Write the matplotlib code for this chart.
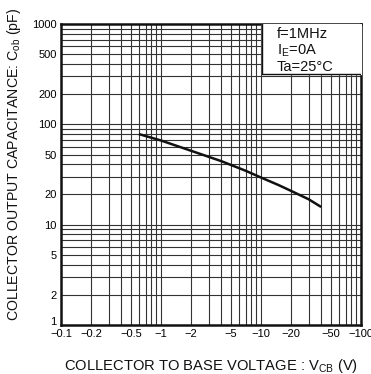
import matplotlib
matplotlib.use('Agg')
import matplotlib.pyplot as plt
import matplotlib.transforms as mtransforms
import numpy as np

# Cob vs Vcb, f=1MHz, Ie=0A, Ta=25C
vcb = [0.6, 1, 2, 4, 7, 10, 15, 20, 30, 40]
cob = [80, 69, 54.5, 43, 34.5, 29.5, 24.8, 21.7, 17.9, 15]

x_ticks = [0.1, 0.2, 0.5, 1, 2, 5, 10, 20, 50, 100]
x_labels = ['\u22120.1', '\u22120.2', '\u22120.5', '\u22121', '\u22122', '\u22125',
            '\u221210', '\u221220', '\u221250', '\u2212100']
y_ticks = [1, 2, 5, 10, 20, 50, 100, 200, 500, 1000]
y_labels = ['1', '2', '5', '10', '20', '50', '100', '200', '500', '1000']

narrow = ['Liberation Sans Narrow', 'Liberation Sans', 'DejaVu Sans']
plt.rcParams['font.family'] = ['Liberation Sans', 'DejaVu Sans']

fig = plt.figure(figsize=(3.71, 3.74), dpi=100)
ax = fig.add_axes([61 / 371, 1 - 325 / 374, 300 / 371, 301 / 374])
ax.set_xscale('log')
ax.set_yscale('log')
ax.set_xlim(0.1, 100)
ax.set_ylim(1, 1000)

# full log grid: every 1..9 step in each decade
for d in [0.1, 1, 10]:
    for k in range(2, 10):
        ax.axvline(d * k, color='#333333', lw=0.8, zorder=1)
for d in [1, 10, 100]:
    for k in range(2, 10):
        ax.axhline(d * k, color='#333333', lw=0.8, zorder=1)
for v in [1, 10]:
    ax.axvline(v, color='#333333', lw=0.8, zorder=1)
for v in [10, 100]:
    ax.axhline(v, color='#333333', lw=0.8, zorder=1)

ax.plot(vcb, cob, color='#111111', lw=1.8, zorder=3, solid_capstyle='butt')

ax.set_xticks(x_ticks)
ax.set_xticklabels(x_labels, family=narrow, fontsize=8)
ax.set_yticks(y_ticks)
ax.set_yticklabels(y_labels, family=narrow, fontsize=8)
ax.minorticks_off()
ax.tick_params(length=0, pad=3)

# lift the "1" a little so it clears the "-0.1"
lbl = ax.get_yticklabels()[0]
lbl.set_transform(lbl.get_transform() +
                  mtransforms.ScaledTranslation(0, 3 / 72, fig.dpi_scale_trans))

for s in ax.spines.values():
    s.set_linewidth(1.8)
    s.set_color('#111111')

# condition box in the upper right
ax.fill_between([10 ** 1.01, 100], 10 ** 2.5, 1000, color='white', zorder=4)
ax.plot([10 ** 1.01, 10 ** 1.01, 100], [1000, 10 ** 2.5, 10 ** 2.5],
        color='#111111', lw=1.0, zorder=5)
cond = ['f=1MHz', 'I$_{\\mathregular{E}}$=0A', 'Ta=25\u00b0C']
for i, t in enumerate(cond):
    ax.text(10 ** 1.16, 10 ** (2.9 - i * 0.165), t, fontsize=10.5, va='center',
            ha='left', zorder=6, color='#111111')

ax.set_xlabel('COLLECTOR TO BASE VOLTAGE : V$_{\\mathregular{CB}}$ (V)',
              fontsize=10.6, labelpad=13, color='#111111')
ax.set_ylabel('COLLECTOR OUTPUT CAPACITANCE: C$_{\\mathregular{ob}}$ (pF)',
              fontsize=10.2, color='#111111')
ax.yaxis.set_label_coords(-38 / 300, 0.535)

fig.savefig('out.png', dpi=100)
